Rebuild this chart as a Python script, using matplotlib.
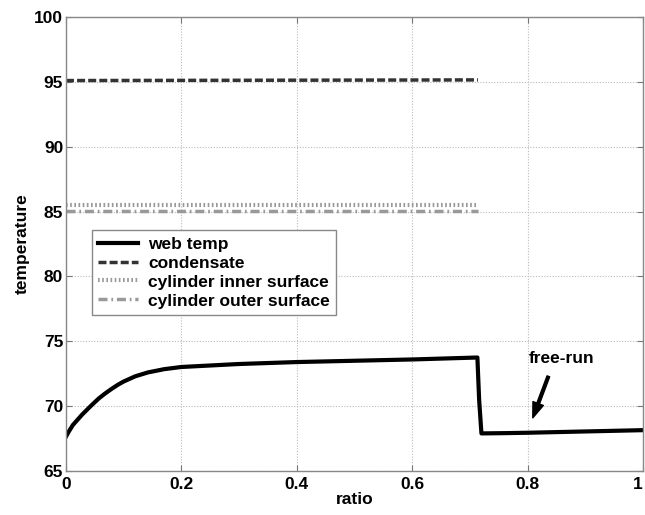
import matplotlib
matplotlib.use('Agg')
import matplotlib.pyplot as plt
import numpy as np

plt.rcParams['font.family'] = ['Liberation Sans', 'DejaVu Sans']
plt.rcParams['font.weight'] = 'bold'

# web temperature profile
web_x = [0.0, 0.005, 0.012, 0.02, 0.028, 0.037, 0.045, 0.057, 0.067, 0.078, 0.09,
         0.1, 0.12, 0.142, 0.17, 0.2, 0.3, 0.4, 0.5, 0.6, 0.66, 0.713, 0.716,
         0.72, 0.76, 0.8, 0.9, 1.0]
web_y = [67.65, 68.05, 68.55, 68.95, 69.35, 69.75, 70.1, 70.6, 70.95, 71.3, 71.65,
         71.9, 72.3, 72.6, 72.85, 73.02, 73.25, 73.4, 73.5, 73.6, 73.68, 73.75, 70.5,
         67.9, 67.92, 67.95, 68.05, 68.15]

# constant temperatures during the heated part of the run
heated_x = [0.0, 0.714]
condensate_y = [95.1, 95.15]
inner_y = [85.5, 85.5]
outer_y = [85.05, 85.05]

FS = 12.5

fig = plt.figure(figsize=(6.45, 5.15), dpi=100)
ax = fig.add_axes([0.1023, 0.0854, 0.8946, 0.8816])

ax.plot(web_x, web_y, color='black', lw=3, label='web temp')
ax.plot(heated_x, condensate_y, color='#333333', lw=2.5, dashes=(2.3, 0.9),
        label='condensate')
ax.plot(heated_x, inner_y, color='#999999', lw=3, dashes=(0.4, 0.6),
        label='cylinder inner surface')
ax.plot(heated_x, outer_y, color='#999999', lw=2.5, dashes=(2.6, 1.1, 0.5, 1.1),
        label='cylinder outer surface')

# arrow pointing to the free-run part
ax.annotate('', xy=(0.809, 69.1), xytext=(0.836, 72.3), textcoords='data',
            arrowprops=dict(facecolor='black', edgecolor='black', width=2.0,
                            headwidth=8, headlength=11, shrink=0.0))
ax.text(0.859, 73.7, 'free-run', ha='center', va='center', fontsize=FS,
        fontweight='bold')

ax.set_xlim(0, 1)
ax.set_ylim(65, 100)
ax.set_xticks([0, 0.2, 0.4, 0.6, 0.8, 1])
ax.set_xticklabels(['0', '0.2', '0.4', '0.6', '0.8', '1'])
ax.set_yticks([65, 70, 75, 80, 85, 90, 95, 100])
ax.tick_params(direction='in', length=4, width=0.8, color='#777777',
               top=True, right=True, labelsize=FS)
ax.tick_params(axis='x', pad=4)
ax.tick_params(axis='y', pad=2)
for lab in ax.get_xticklabels() + ax.get_yticklabels():
    lab.set_fontweight('bold')
ax.get_xticklabels()[-1].set_horizontalalignment('right')
ax.grid(True, linestyle=(0, (1, 1.5)), color='#bbbbbb', lw=0.8)
for sp in ax.spines.values():
    sp.set_color('#888888')
    sp.set_linewidth(1.0)

ax.set_xlabel('ratio', fontsize=FS, fontweight='bold', labelpad=0)
ax.set_ylabel('temperature', fontsize=FS, fontweight='bold', labelpad=3)

leg = ax.legend(loc='upper left', bbox_to_anchor=(0.045, 0.530),
                handlelength=2.3, handletextpad=0.6, labelspacing=0.22,
                borderpad=0.35, borderaxespad=0, fancybox=False, framealpha=1,
                prop={'weight': 'bold', 'size': FS})
leg.get_frame().set_edgecolor('#888888')
leg.get_frame().set_linewidth(1.0)

plt.savefig('out.png', dpi=100)
plt.close()
